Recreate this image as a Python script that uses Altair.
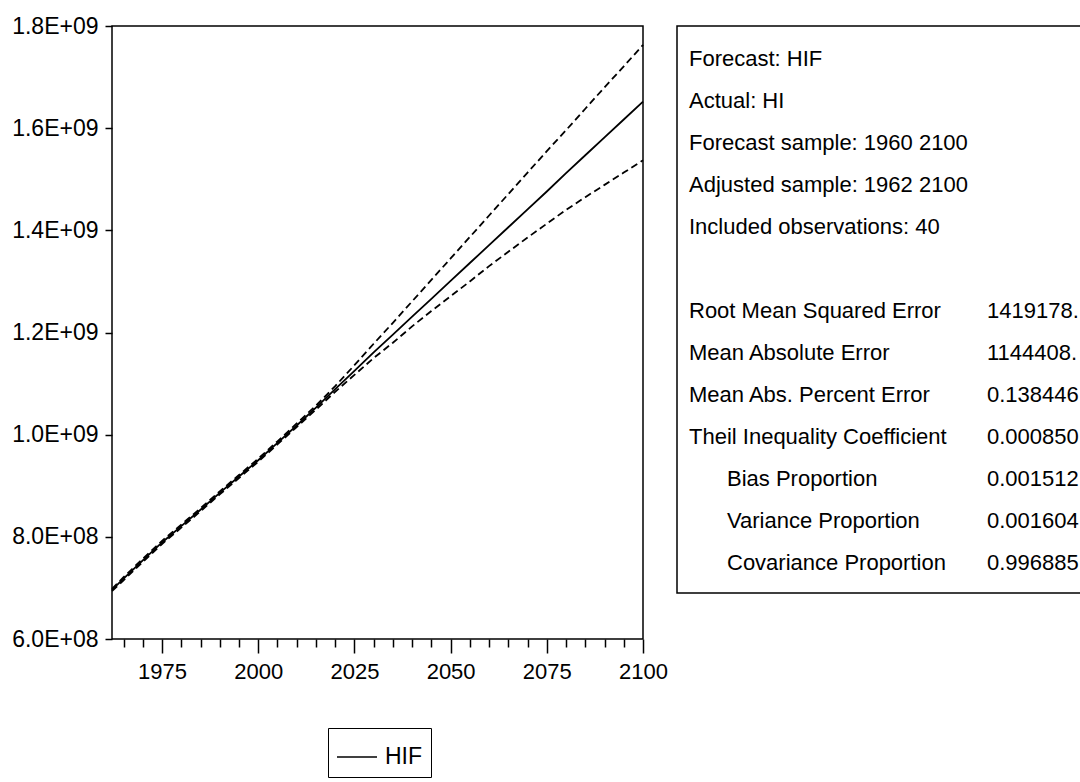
import altair as alt
import pandas as pd

# Forecast HIF with +/- 2 S.E. bands
years = [1962, 1965, 1970, 1975, 1980, 1985, 1990, 1995, 2000, 2005, 2010,
         2015, 2020, 2025, 2030, 2035, 2040, 2045, 2050, 2055, 2060, 2065,
         2070, 2075, 2080, 2085, 2090, 2095, 2100]
hif = [696e6, 718e6, 754e6, 789e6, 821e6, 853e6, 886e6, 918e6, 950e6, 984e6,
       1018e6, 1053e6, 1089e6, 1125e6, 1161e6, 1196e6, 1231e6, 1266e6, 1301e6,
       1336e6, 1371e6, 1406e6, 1441e6, 1476e6, 1512e6, 1547e6, 1582e6, 1617e6,
       1652e6]
upper = [698e6, 721e6, 757e6, 792e6, 824e6, 856e6, 889e6, 921e6, 953e6, 987e6,
         1022e6, 1057e6, 1095e6, 1136e6, 1178e6, 1219e6, 1261e6, 1303e6, 1345e6,
         1387e6, 1429e6, 1471e6, 1513e6, 1555e6, 1596e6, 1638e6, 1680e6, 1721e6,
         1763e6]
lower = [694e6, 715e6, 751e6, 786e6, 818e6, 850e6, 883e6, 915e6, 947e6, 981e6,
         1015e6, 1049e6, 1084e6, 1117e6, 1150e6, 1180e6, 1212e6, 1242e6, 1271e6,
         1300e6, 1330e6, 1358e6, 1386e6, 1413e6, 1440e6, 1465e6, 1489e6, 1513e6,
         1537e6]

major_years = [1975, 2000, 2025, 2050, 2075, 2100]
minor_years = [1965, 1970, 1980, 1985, 1990, 1995, 2005, 2010, 2015, 2020,
               2030, 2035, 2040, 2045, 2055, 2060, 2065, 2070, 2080, 2085,
               2090, 2095]
y_ticks = [6e8, 8e8, 1.0e9, 1.2e9, 1.4e9, 1.6e9, 1.8e9]

header_lines = ["Forecast: HIF", "Actual: HI", "Forecast sample: 1960 2100",
                "Adjusted sample: 1962 2100", "Included observations: 40"]
stat_names = ["Root Mean Squared Error", "Mean Absolute Error",
              "Mean Abs. Percent Error", "Theil Inequality Coefficient"]
sub_stat_names = ["Bias Proportion", "Variance Proportion",
                  "Covariance Proportion"]
stat_values = ["1419178.", "1144408.", "0.138446", "0.000850", "0.001512",
               "0.001604", "0.996885"]

FONT = "Liberation Sans, Arial, sans-serif"
AXIS_FS = 23
BOX_FS = 22
LH = 42
TOP = 23  # top of the first text line inside the statistics box

rows = []
for name, vals in (("HIF", hif), ("upper", upper), ("lower", lower)):
    for yr, v in zip(years, vals):
        rows.append({"year": yr, "value": v, "series": name})
df = pd.DataFrame(rows)

x_scale = alt.Scale(domain=[1962, 2100], nice=False, zero=False)
y_scale = alt.Scale(domain=[6e8, 1.8e9], nice=False, zero=False)

y_label = ("datum.value >= 1e9 ? format(datum.value / 1e9, '.1f') + 'E+09'"
           " : format(datum.value / 1e8, '.1f') + 'E+08'")

forecast = alt.Chart(df).transform_filter(
    alt.datum.series == "HIF"
).mark_line(strokeWidth=1.8).encode(
    x=alt.X("year:Q", scale=x_scale, title=None,
            axis=alt.Axis(values=major_years, format="d", tickSize=14,
                          tickWidth=1.5, tickColor="black", domain=False,
                          grid=False, labelFont=FONT, labelFontSize=22,
                          labelColor="black", labelPadding=8,
                          labelFlush=False, labelOverlap=False,
                          orient="bottom")),
    y=alt.Y("value:Q", scale=y_scale, title=None,
            axis=alt.Axis(values=y_ticks, labelExpr=y_label, tickSize=7,
                          tickWidth=1.5, tickColor="black", domain=False,
                          grid=False, labelFont=FONT, labelFontSize=AXIS_FS,
                          labelColor="black", labelPadding=7,
                          labelFlush=False, labelOverlap=False)),
    color=alt.Color("series:N", scale=alt.Scale(range=["black"]),
                    legend=alt.Legend(title=None, orient="none", legendX=216,
                                      legendY=702, padding=8,
                                      strokeColor="black", symbolType="stroke",
                                      symbolSize=1600, symbolStrokeWidth=1.5,
                                      labelFont=FONT, labelFontSize=AXIS_FS,
                                      labelColor="black", labelOffset=7)),
)

bands = alt.Chart(df).transform_filter(
    alt.datum.series != "HIF"
).mark_line(strokeWidth=1.8, strokeDash=[7, 4], color="black").encode(
    x=alt.X("year:Q", scale=x_scale, title=None,
            axis=alt.Axis(values=minor_years, tickSize=8, tickWidth=1.5,
                          tickColor="black", domain=False, grid=False,
                          labels=False, orient="bottom")),
    y=alt.Y("value:Q", scale=y_scale, title=None, axis=None),
    detail="series:N",
)

one = pd.DataFrame({"k": [0]})

stats_box = alt.Chart(one).mark_rect(
    fillOpacity=0, stroke="black", strokeWidth=1.5
).encode(x=alt.value(565), x2=alt.value(990), y=alt.value(0), y2=alt.value(567))


def text_block(lines, x, first_row):
    return alt.Chart(one).mark_text(
        text=lines, align="left", baseline="top",
        font=FONT, fontSize=BOX_FS, lineHeight=LH, color="black"
    ).encode(x=alt.value(x), y=alt.value(TOP + first_row * LH))


header_text = text_block(header_lines, 577, 0)
stat_text = text_block(stat_names, 577, 6)
sub_text = text_block(sub_stat_names, 615, 10)
value_text = text_block(stat_values, 875, 6)

chart = alt.layer(
    forecast, bands, stats_box, header_text, stat_text, sub_text, value_text
).resolve_axis(
    x="independent", y="independent"
).properties(
    width=531, height=613,
    padding={"left": 112, "top": 26, "right": 437, "bottom": 143},
    autosize=alt.AutoSizeParams(type="none"),
    background="white",
).configure_view(
    stroke="black", strokeWidth=1.5
)

chart.save("out.html", embed_options={"renderer": "svg", "actions": False})
